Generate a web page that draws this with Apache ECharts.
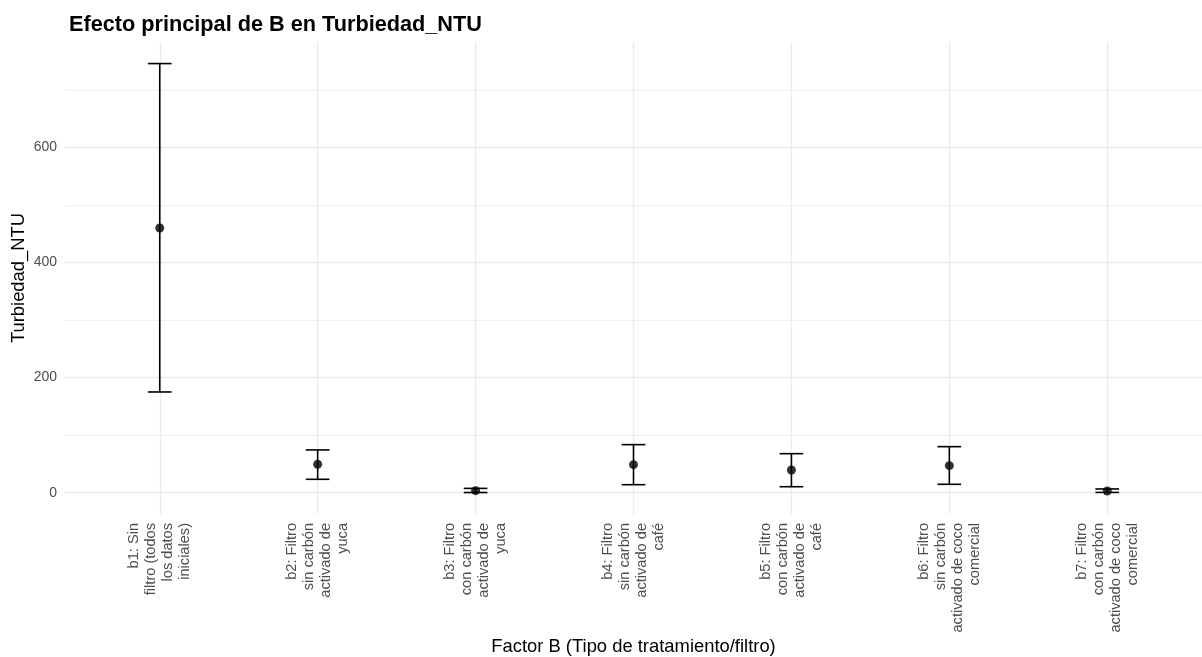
<!DOCTYPE html>
<html>
<head>
<meta charset="utf-8">
<title>Efecto principal de B en Turbiedad_NTU</title>
<script src="https://cdn.jsdelivr.net/npm/echarts@6/dist/echarts.min.js"></script>
<style>
html, body { margin: 0; padding: 0; background: #fff; }
#chart { width: 1202px; height: 657px; }
</style>
</head>
<body>
<div id="chart"></div>
<script>
// niveles del factor B (etiquetas ya cortadas en lineas)
const categories = [
    'b1: Sin\nfiltro (todos\nlos datos\niniciales)',
    'b2: Filtro\nsin carbón\nactivado de\nyuca',
    'b3: Filtro\ncon carbón\nactivado de\nyuca',
    'b4: Filtro\nsin carbón\nactivado de\ncafé',
    'b5: Filtro\ncon carbón\nactivado de\ncafé',
    'b6: Filtro\nsin carbón\nactivado de coco\ncomercial',
    'b7: Filtro\ncon carbón\nactivado de coco\ncomercial'
]
// media y limites del intervalo
const means = [459.8, 49.4, 3.5, 48.7, 39.5, 47.0, 3.0]
const lows = [175.0, 23.3, 0.3, 13.9, 10.4, 14.6, 0.5]
const highs = [745.5, 74.3, 7.5, 83.5, 67.8, 80.0, 6.5]
const yTicks = [0, 200, 400, 600]
const yMinorTicks = [100, 300, 500, 700]

const xPos = categories.map((c, i) => i + 1)
const capWidth = 0.15
const font = '"Liberation Sans", Arial, sans-serif'

const chart = echarts.init(document.getElementById('chart'))

const option = {
    backgroundColor: '#fff',
    animation: false,
    title: {
        text: 'Efecto principal de B en Turbiedad_NTU',
        left: 64,
        top: 9,
        textStyle: { fontFamily: font, fontSize: 21.7, fontWeight: 'bold', color: '#000' }
    },
    grid: { left: 65, right: 0, top: 42, bottom: 143, outerBoundsMode: 'none' },
    xAxis: {
        type: 'value',
        min: 0.4,
        max: 7.6,
        name: 'Factor B (Tipo de tratamiento/filtro)',
        nameLocation: 'middle',
        nameGap: 124,
        nameMoveOverlap: false,
        nameTextStyle: { fontFamily: font, fontSize: 18.4, color: '#000' },
        axisLine: { show: false },
        axisTick: { show: false, customValues: xPos },
        axisLabel: {
            customValues: xPos,
            rotate: 90,
            margin: 9,
            fontFamily: font,
            fontSize: 14.6,
            lineHeight: 17,
            color: '#4d4d4d',
            formatter: v => categories[Math.round(v) - 1] || ''
        },
        splitLine: { show: true, lineStyle: { color: '#ebebeb', width: 1.4 } }
    },
    yAxis: [
        {
            type: 'value',
            min: -37,
            max: 783,
            name: 'Turbiedad_NTU',
            nameLocation: 'middle',
            nameGap: 37,
            nameMoveOverlap: false,
            nameTextStyle: { fontFamily: font, fontSize: 18.4, color: '#000' },
            axisLine: { show: false },
            axisTick: { show: false, customValues: yTicks },
            axisLabel: {
                customValues: yTicks,
                margin: 8,
                fontFamily: font,
                fontSize: 14,
                color: '#4d4d4d'
            },
            splitLine: { show: true, lineStyle: { color: '#ebebeb', width: 1.4 } }
        },
        {
            // solo para las lineas menores de la rejilla
            type: 'value',
            min: -37,
            max: 783,
            position: 'left',
            axisLine: { show: false },
            axisTick: { show: false, customValues: yMinorTicks },
            axisLabel: { show: false, customValues: yMinorTicks },
            splitLine: { show: true, lineStyle: { color: '#ebebeb', width: 0.8 } }
        }
    ],
    series: [
        {
            type: 'custom',
            name: 'intervalo',
            silent: true,
            data: xPos.map((x, i) => [x, lows[i], highs[i]]),
            renderItem: function (params, api) {
                const x = api.value(0)
                const top = api.coord([x, api.value(2)])
                const bot = api.coord([x, api.value(1)])
                const half = api.size([capWidth, 0])[0] / 2
                const st = { stroke: '#000', lineWidth: 1.6 }
                return {
                    type: 'group',
                    children: [
                        { type: 'line', shape: { x1: top[0], y1: top[1], x2: bot[0], y2: bot[1] }, style: st },
                        { type: 'line', shape: { x1: top[0] - half, y1: top[1], x2: top[0] + half, y2: top[1] }, style: st },
                        { type: 'line', shape: { x1: bot[0] - half, y1: bot[1], x2: bot[0] + half, y2: bot[1] }, style: st }
                    ]
                }
            },
            z: 2
        },
        {
            type: 'scatter',
            name: 'media',
            silent: true,
            data: xPos.map((x, i) => [x, means[i]]),
            symbol: 'circle',
            symbolSize: 9,
            itemStyle: { color: '#000' },
            z: 3
        }
    ]
}

chart.setOption(option)
</script>
</body>
</html>
